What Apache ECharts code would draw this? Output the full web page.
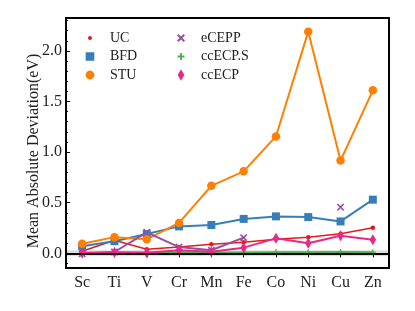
<!DOCTYPE html>
<html><head><meta charset="utf-8">
<script src="https://cdn.jsdelivr.net/npm/echarts@6/dist/echarts.min.js"></script>
<style>html,body{margin:0;padding:0;background:#fff}#c{width:415px;height:311px}</style>
</head><body><div id="c"></div>
<script>
var categories = ['Sc','Ti','V','Cr','Mn','Fe','Co','Ni','Cu','Zn'];
var UC      = [0.02, 0.13, 0.04, 0.062, 0.089, 0.11, 0.14, 0.16, 0.194, 0.253];
var BFD     = [0.07, 0.12, 0.19, 0.266, 0.28, 0.34, 0.365, 0.358, 0.315, 0.53];
var STU     = [0.095, 0.16, 0.138, 0.30, 0.667, 0.81, 1.155, 2.19, 0.916, 1.61];
var eCEPP   = [-0.005, 0.013, 0.207, 0.062, 0.03, 0.155, null, null, 0.456, null];
var ccECPS  = [0.005, 0.006, 0.008, 0.010, 0.009, 0.008, 0.010, 0.010, 0.012, 0.011];
var ccECP   = [0.003, 0.01, 0.005, 0.03, 0.016, 0.056, 0.148, 0.10, 0.174, 0.135];
var seriesNames = ['UC','BFD','STU','eCEPP','ccECP.S','ccECP'];
var colors = ['#e41a1c','#377eb8','#ff7f00','#984ea3','#4daf4a','#e7298a'];

var pad = 'M0 0L0.001 0L0 0.001Z M20 20L19.999 20L20 19.999Z ';
var xPath = 'M0 1.5L1.5 0L5 3.5L8.5 0L10 1.5L6.5 5L10 8.5L8.5 10L5 6.5L1.5 10L0 8.5L3.5 5Z';
var plusPath = 'M3.9 0H6.1V3.9H10V6.1H6.1V10H3.9V6.1H0V3.9H3.9Z';
var icons = {
  'UC': 'path://' + pad + 'M12.9 10A2.9 2.9 0 1 1 7.1 10A2.9 2.9 0 1 1 12.9 10Z',
  'BFD': 'path://' + pad + 'M3.8 3.8H16.2V16.2H3.8Z',
  'STU': 'path://' + pad + 'M16.3 10A6.3 6.3 0 1 1 3.7 10A6.3 6.3 0 1 1 16.3 10Z',
  'eCEPP': 'path://' + pad + 'M4.3 6.4L6.4 4.3L10 7.9L13.6 4.3L15.7 6.4L12.1 10L15.7 13.6L13.6 15.7L10 12.1L6.4 15.7L4.3 13.6L7.9 10Z',
  'ccECP.S': 'path://' + pad + 'M8.7 5H11.3V8.7H15V11.3H11.3V15H8.7V11.3H5V8.7H8.7Z',
  'ccECP': 'path://' + pad + 'M10 1.7L14.75 10L10 18.3L5.25 10Z'
};
function legendData(names){
  return names.map(function(n){ return {name:n, icon: icons[n], itemStyle:{borderWidth:0}}; });
}
var font = 'Liberation Serif';
var legendCommon = {
  orient:'vertical', top: 26, itemWidth: 30, itemHeight: 14, itemGap: 4.5,
  textStyle:{fontFamily: font, fontSize: 14, color:'#222'}, selectedMode:false
};

var chart = echarts.init(document.getElementById('c'), null, {renderer:'canvas'});
chart.setOption({
  animation:false,
  backgroundColor:'#fff',
  grid:{left:66, right:26, top:18, bottom:43, show:true, borderColor:'#000', borderWidth:2, backgroundColor:'transparent'},
  legend:[
    Object.assign({left:78, data: legendData(['UC','BFD','STU'])}, legendCommon),
    Object.assign({left:169, data: legendData(['eCEPP','ccECP.S','ccECP'])}, legendCommon)
  ],
  xAxis:{
    type:'category', data: categories, boundaryGap:true,
    axisLine:{show:true, lineStyle:{color:'#000', width:2}},
    axisTick:{show:true, alignWithLabel:true, length:4, lineStyle:{color:'#000'}},
    axisLabel:{fontFamily:font, fontSize:16, color:'#222', margin:7},
    splitLine:{show:false}
  },
  yAxis:{
    type:'value', min:-0.145, max:2.325, splitNumber:5,
    name:'Mean Absolute Deviation(eV)', nameLocation:'middle', nameGap:24, nameMoveOverlap:false,
    nameTextStyle:{fontFamily:font, fontSize:16, color:'#222', padding:[0,0,0,-16]},
    axisLine:{show:true, lineStyle:{color:'#000', width:2}},
    axisTick:{show:true, inside:true, length:4, lineStyle:{color:'#000'}},
    minorTick:{show:true, splitNumber:5, length:2, lineStyle:{color:'#000'}},
    axisLabel:{fontFamily:font, fontSize:16, color:'#222', margin:4, showMinLabel:false, showMaxLabel:false,
      formatter:function(v){ return v.toFixed(1); }},
    splitLine:{show:false}
  },
  series:[
    {type:'line', name:'_ref', data: categories.map(function(){return null;}), silent:true, z:1,
      markArea:{silent:true, itemStyle:{color:'rgba(0,0,0,0.13)'}, data:[[{yAxis:-0.03},{yAxis:0.03}]]},
      markLine:{silent:true, symbol:['none','none'], label:{show:false}, lineStyle:{color:'#000', width:1.5, type:'solid'}, data:[{yAxis:0}]}
    },
    {type:'line', name:'UC', data:UC, symbol:'circle', symbolSize:4.5, color:colors[0],
      lineStyle:{width:1.5}, itemStyle:{borderWidth:0}, z:2},
    {type:'line', name:'BFD', data:BFD, symbol:'rect', symbolSize:8, color:colors[1],
      lineStyle:{width:2}, itemStyle:{borderWidth:0}, z:2},
    {type:'line', name:'STU', data:STU, symbol:'circle', symbolSize:8.5, color:colors[2],
      lineStyle:{width:2}, itemStyle:{borderWidth:0}, z:2},
    {type:'line', name:'eCEPP', data:eCEPP, symbol:'path://'+xPath, symbolSize:7.5, color:colors[3],
      lineStyle:{width:2}, itemStyle:{borderWidth:0}, connectNulls:false, z:2},
    {type:'line', name:'ccECP.S', data:ccECPS, symbol:'path://'+plusPath, symbolSize:6, color:colors[4],
      lineStyle:{width:2}, itemStyle:{borderWidth:0}, z:2},
    {type:'line', name:'ccECP', data:ccECP, symbol:'diamond', symbolSize:[6.5,11], color:colors[5],
      lineStyle:{width:2}, itemStyle:{borderWidth:0}, z:2}
  ]
});
</script></body></html>
